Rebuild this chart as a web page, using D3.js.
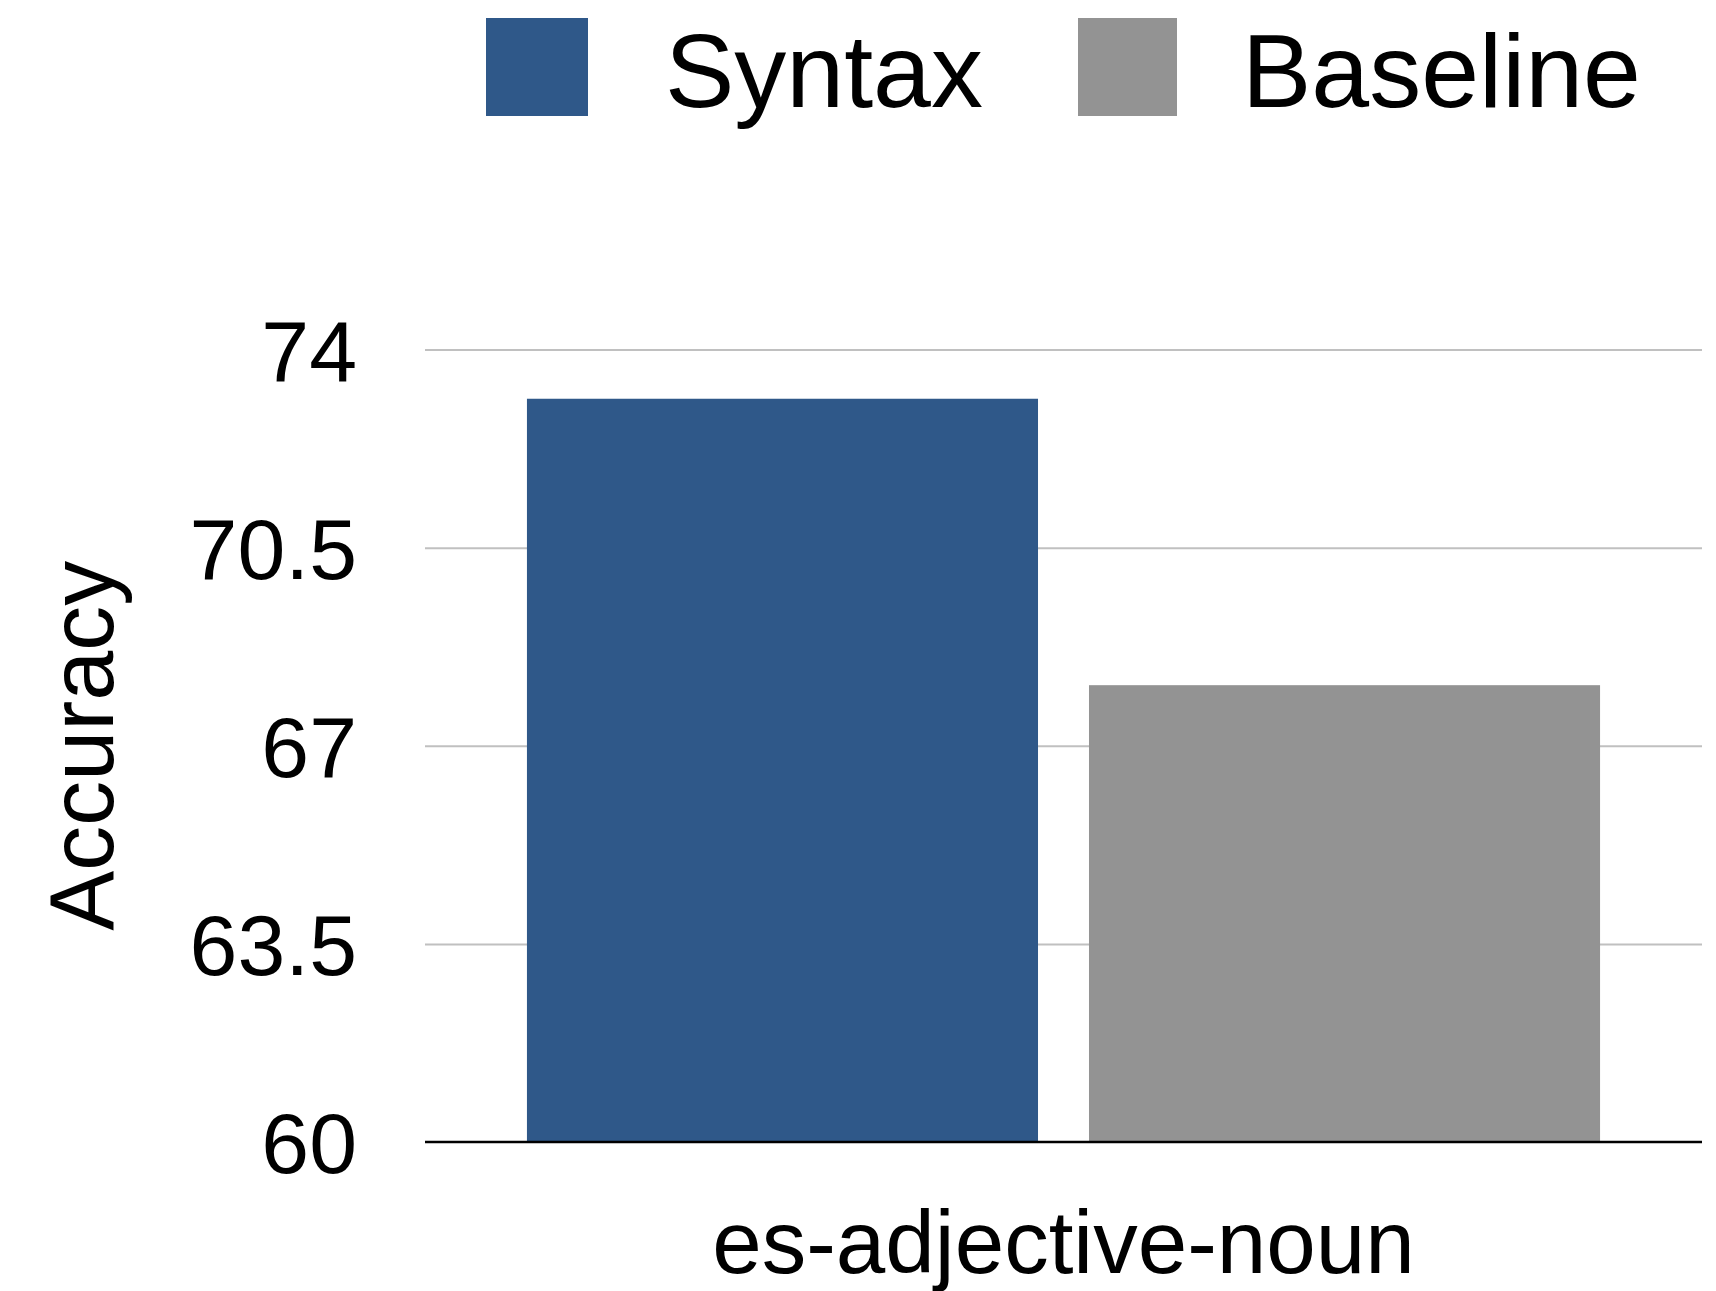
<!DOCTYPE html>
<html>
<head>
<meta charset="utf-8">
<script src="https://cdn.jsdelivr.net/npm/d3@7"></script>
<style>
  html, body { margin: 0; padding: 0; background: #fff; }
  text { font-family: "Liberation Sans", Arial, Helvetica, sans-serif; fill: #000; }
</style>
</head>
<body>
<svg id="chart" width="1716" height="1291"></svg>
<script>
const categories = ["es-adjective-noun"];
const seriesNames = ["Syntax", "Baseline"];
const syntaxValues = [73.13];
const baselineValues = [68.07];
const yTicks = [60, 63.5, 67, 70.5, 74];
const yTickLabels = ["60", "63.5", "67", "70.5", "74"];
const colors = ["#2f5889", "#939393"];

const W = 1716, H = 1291;
const margin = {left: 425, right: 14, top: 349.5, bottom: 1291 - 1142};
const svg = d3.select("#chart");

const y = d3.scaleLinear().domain([60, 74]).range([H - margin.bottom, margin.top]);
const x0 = d3.scaleBand().domain(categories).range([margin.left, W - margin.right])
  .paddingInner(0).paddingOuter(0.095);
const x1 = d3.scaleBand().domain(seriesNames).range([0, x0.bandwidth()])
  .paddingInner(0.0907).paddingOuter(0);
const color = d3.scaleOrdinal().domain(seriesNames).range(colors);

const data = categories.map((c, i) => ({
  category: c,
  values: [
    {series: "Syntax", value: syntaxValues[i]},
    {series: "Baseline", value: baselineValues[i]}
  ]
}));

// Grid lines via axis
const grid = svg.append("g")
  .attr("transform", `translate(${margin.left},0)`)
  .call(d3.axisLeft(y).tickValues(yTicks.slice(1)).tickSize(-(W - margin.left - margin.right)).tickFormat(""));
grid.select(".domain").remove();
grid.selectAll(".tick line").attr("stroke", "#c0c0c0").attr("stroke-width", 2);

// Y tick labels via axis
const yAxis = svg.append("g")
  .attr("transform", `translate(${margin.left},0)`)
  .call(d3.axisLeft(y).tickValues(yTicks).tickSize(0).tickPadding(68)
    .tickFormat((d, i) => yTickLabels[i]));
yAxis.select(".domain").remove();
yAxis.selectAll(".tick text")
  .attr("font-size", 86)
  .attr("font-family", "Liberation Sans, Arial, sans-serif")
  .attr("fill", "#000")
  .attr("dy", "0.36em");

// Bars
const groups = svg.append("g").selectAll("g").data(data).join("g")
  .attr("transform", d => `translate(${x0(d.category)},0)`);
groups.selectAll("rect").data(d => d.values).join("rect")
  .attr("x", d => x1(d.series))
  .attr("width", x1.bandwidth())
  .attr("y", d => y(d.value))
  .attr("height", d => y(60) - y(d.value))
  .attr("fill", d => color(d.series));

// Baseline axis line
const xAxis = svg.append("g")
  .attr("transform", `translate(0,${y(60)})`)
  .call(d3.axisBottom(x0).tickSize(0).tickPadding(82));
xAxis.select(".domain").attr("stroke", "#000").attr("stroke-width", 2.5)
  .attr("d", `M${margin.left},0H${W - margin.right}`);
xAxis.selectAll(".tick text")
  .attr("font-size", 89)
  .attr("font-family", "Liberation Sans, Arial, sans-serif")
  .attr("fill", "#000")
  .attr("dy", "0.55em");

// Y axis title
svg.append("text")
  .attr("transform", `translate(113,${(y(60) + y(74)) / 2}) rotate(-90)`)
  .attr("text-anchor", "middle")
  .attr("font-size", 90)
  .text("Accuracy");

// Legend
const legendItems = [
  {name: "Syntax", x: 486, w: 102, tx: 665},
  {name: "Baseline", x: 1078, w: 99, tx: 1242}
];
const legend = svg.append("g");
legend.selectAll("rect").data(legendItems).join("rect")
  .attr("x", d => d.x).attr("y", 18).attr("width", d => d.w).attr("height", 98)
  .attr("fill", d => color(d.name));
legend.selectAll("text").data(legendItems).join("text")
  .attr("x", d => d.tx).attr("y", 107)
  .attr("font-size", 104)
  .text(d => d.name);
</script>
</body>
</html>
